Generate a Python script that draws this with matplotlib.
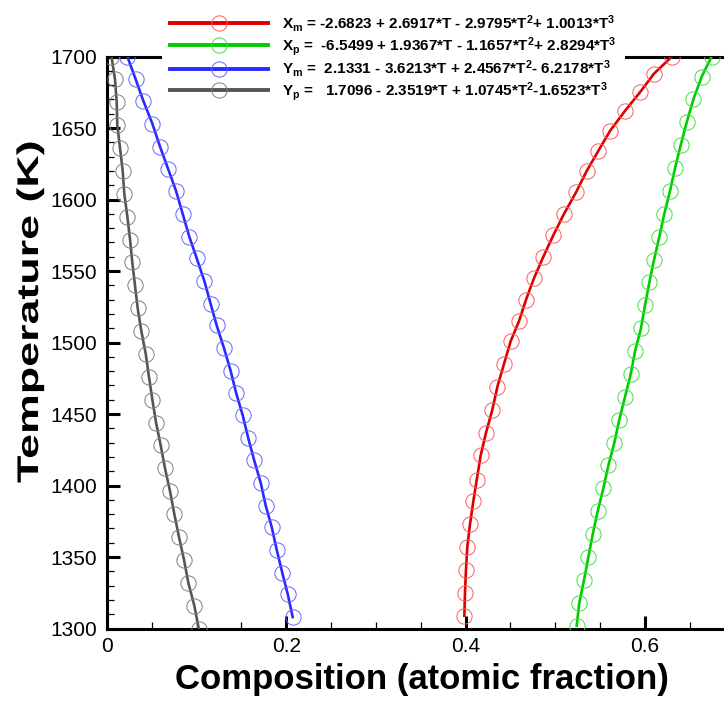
import matplotlib
matplotlib.use("Agg")
import matplotlib.pyplot as plt
from matplotlib.ticker import MultipleLocator
from matplotlib.patheffects import AbstractPathEffect
from matplotlib.transforms import Affine2D

plt.rcParams['font.family'] = ['Liberation Sans', 'DejaVu Sans']
plt.rcParams['mathtext.fontset'] = 'custom'
plt.rcParams['mathtext.rm'] = 'Liberation Sans:bold'
plt.rcParams['mathtext.default'] = 'rm'


class Stretch(AbstractPathEffect):
    # stretches glyphs along the text direction (the y title is drawn elongated)
    def __init__(self, sx=1.0, sy=1.0):
        super().__init__()
        self.sx, self.sy = sx, sy

    def draw_path(self, renderer, gc, tpath, affine, rgbFace=None):
        renderer.draw_path(gc, tpath, Affine2D().scale(self.sx, self.sy) + affine, rgbFace)


# temperatures (K) and compositions, bottom to top
T_xm = [1309, 1325, 1341, 1357, 1373, 1389, 1404, 1421, 1437, 1453, 1469, 1485, 1501,
        1515, 1530, 1545, 1560, 1575, 1590, 1605, 1620, 1634, 1648, 1662, 1675, 1688, 1700]
X_m = [0.3986, 0.3993, 0.4004, 0.4019, 0.4049, 0.4086, 0.4124, 0.4168, 0.4228, 0.4298,
       0.4354, 0.4428, 0.4503, 0.4596, 0.4674, 0.4763, 0.4867, 0.4978, 0.5098, 0.5231,
       0.5351, 0.5480, 0.5611, 0.5778, 0.5945, 0.6101, 0.6302]

T_xp = [1302, 1318, 1334, 1350, 1366, 1382, 1398, 1414, 1430, 1446, 1462, 1478, 1494,
        1510, 1526, 1542, 1558, 1574, 1590, 1606, 1622, 1638, 1654, 1670, 1686, 1700]
X_p = [0.5239, 0.5268, 0.5321, 0.5369, 0.5418, 0.5473, 0.5536, 0.5592, 0.5659, 0.5714,
       0.5778, 0.5842, 0.5890, 0.5956, 0.6001, 0.6049, 0.6102, 0.6161, 0.6216, 0.6280,
       0.6336, 0.6399, 0.6466, 0.6540, 0.6634, 0.6745]

T_ym = [1308, 1324, 1339, 1355, 1371, 1386, 1402, 1418, 1433, 1449, 1465, 1480, 1496,
        1512, 1527, 1543, 1559, 1574, 1590, 1606, 1621, 1637, 1653, 1669, 1684, 1700]
Y_m = [0.2071, 0.2016, 0.1955, 0.1893, 0.1837, 0.1770, 0.1714, 0.1640, 0.1576, 0.1514,
       0.1439, 0.1380, 0.1305, 0.1223, 0.1156, 0.1086, 0.1000, 0.0918, 0.0844, 0.0770,
       0.0684, 0.0591, 0.0506, 0.0405, 0.0320, 0.0227]

T_yp = [1300, 1316, 1332, 1348, 1364, 1380, 1396, 1412, 1428, 1444, 1460, 1476, 1492,
        1508, 1524, 1540, 1556, 1572, 1588, 1604, 1620, 1636, 1652, 1668, 1684, 1700]
Y_p = [0.1023, 0.0974, 0.0907, 0.0859, 0.0803, 0.0751, 0.0703, 0.0647, 0.0599, 0.0547,
       0.0506, 0.0468, 0.0432, 0.0383, 0.0342, 0.0312, 0.0282, 0.0257, 0.0227, 0.0193,
       0.0175, 0.0145, 0.0115, 0.0108, 0.0089, 0.0050]

labels = [
    r'X$_{m}$ = -2.6823 + 2.6917*T - 2.9795*T$^{2}$+ 1.0013*T$^{3}$',
    r'X$_{p}$ =  -6.5499 + 1.9367*T - 1.1657*T$^{2}$+ 2.8294*T$^{3}$',
    r'Y$_{m}$ =  2.1331 - 3.6213*T + 2.4567*T$^{2}$- 6.2178*T$^{3}$',
    r'Y$_{p}$ =   1.7096 - 2.3519*T + 1.0745*T$^{2}$-1.6523*T$^{3}$',
]

fig = plt.figure(figsize=(7.24, 7.01), dpi=100)
ax = fig.add_axes([0.1478, 0.1034, 0.8522, 0.816])

series = [(X_m, T_xm, '#dd0000', '#ff5a5a'),
          (X_p, T_xp, '#00cc00', '#44dd44'),
          (Y_m, T_ym, '#2a2aff', '#6464ff'),
          (Y_p, T_yp, '#555555', '#7f7f7f')]
for (x, t, c, mc), lab in zip(series, labels):
    ax.plot(x, t, '-', color=c, lw=1.9, marker='o', ms=11, mfc='none',
            mec=mc, mew=0.7, label=lab, zorder=6)

ax.set_xlim(0, 0.6882)
ax.set_ylim(1300, 1700)
ax.xaxis.set_minor_locator(MultipleLocator(0.05))
ax.yaxis.set_major_locator(MultipleLocator(50))
ax.yaxis.set_minor_locator(MultipleLocator(10))
ax.set_xticks([0, 0.2, 0.4, 0.6])
ax.set_xticklabels(['0', '0.2', '0.4', '0.6'])
ax.tick_params(which='major', direction='in', length=9.5, width=2.2,
               labelsize=15, top=False, right=False)
ax.tick_params(axis='y', which='major', pad=7)
ax.tick_params(axis='x', which='major', pad=6)
ax.tick_params(which='minor', direction='in', length=5, width=0.9,
               top=False, right=False)
for s in ['left', 'bottom', 'top']:
    ax.spines[s].set_linewidth(2.2)
ax.spines['right'].set_visible(False)

fig.text(422 / 724, 1 - 689 / 701, 'Composition (atomic fraction)', fontsize=25,
         fontweight='bold', ha='center', va='baseline')
fig.text(38 / 724, 1 - 483 / 701, 'Temperature (K)', fontsize=21.5, fontweight='bold',
         rotation=90, rotation_mode='anchor', ha='left', va='baseline',
         path_effects=[Stretch(1.5, 1.0)])

leg = ax.legend(loc='upper left', bbox_to_anchor=(0.213, 1.004),
                bbox_transform=fig.transFigure, numpoints=1,
                handlelength=6.4, handletextpad=0.9, labelspacing=0.04,
                borderpad=0.55, frameon=True, fancybox=False,
                prop={'weight': 'bold', 'size': 11})
leg.get_frame().set_facecolor('white')
leg.get_frame().set_edgecolor('none')
leg.get_frame().set_alpha(1)
leg.set_zorder(3)
for h in leg.legend_handles:
    h.set_linewidth(2.8)

fig.savefig('out.png', dpi=100)
